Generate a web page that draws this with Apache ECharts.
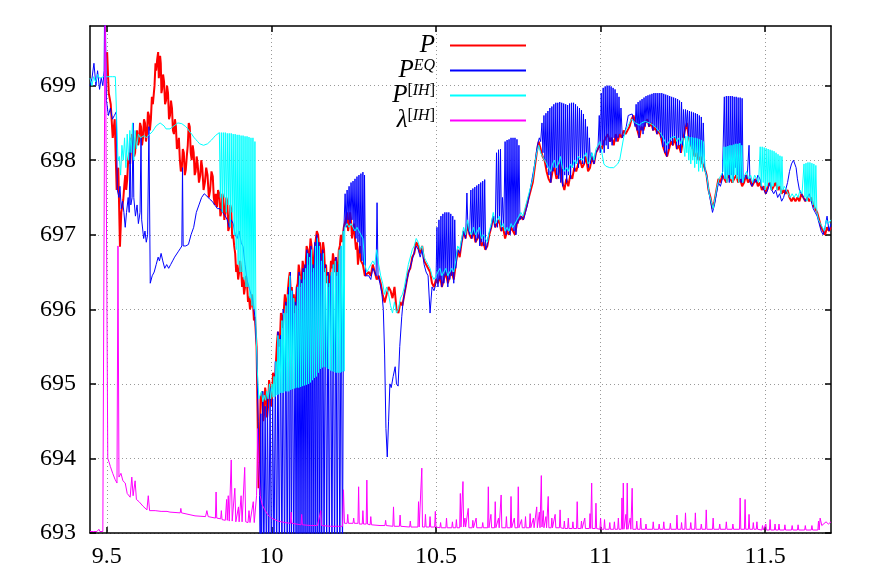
<!DOCTYPE html>
<html>
<head>
<meta charset="utf-8">
<script src="https://cdn.jsdelivr.net/npm/echarts@6/dist/echarts.min.js"></script>
<style>
  html, body { margin: 0; padding: 0; background: #fff; }
  #chart { width: 872px; height: 580px; }
</style>
</head>
<body>
<div id="chart"></div>
<script>
    const xTicks = [9.5, 10, 10.5, 11, 11.5];
    const yTicks = [693, 694, 695, 696, 697, 698, 699];
    const seriesNames = ['P', 'P_EQ', 'P_IH', 'lambda_IH'];

    // P
    const pData = [
        [9.501, 699.45], [9.506, 698.9], [9.512, 698.75], [9.518, 698.3], [9.524, 698.55], [9.530, 697.6],
        [9.535, 697.9], [9.540, 696.84], [9.544, 697.3], [9.550, 697.47], [9.553, 697.65],
        [9.556, 697.8], [9.559, 697.6], [9.562, 697.74], [9.565, 698.0], [9.568, 698.1], [9.571, 697.95],
        [9.574, 698.2], [9.577, 698.35], [9.580, 698.3], [9.583, 698.05], [9.586, 698.1], [9.589, 698.35],
        [9.592, 698.4], [9.595, 698.2], [9.598, 698.25], [9.601, 698.5], [9.604, 698.45], [9.607, 698.2],
        [9.610, 698.3], [9.613, 698.55], [9.616, 698.5], [9.619, 698.25], [9.622, 698.35], [9.625, 698.65],
        [9.628, 698.6], [9.631, 698.4], [9.634, 698.55], [9.637, 698.85], [9.640, 698.75], [9.643, 698.9],
        [9.645, 699.0], [9.648, 699.3], [9.650, 699.2], [9.653, 699.35], [9.656, 699.45], [9.658, 699.1],
        [9.660, 699.2], [9.662, 699.4], [9.664, 699.3], [9.666, 698.9], [9.668, 698.95], [9.671, 699.15],
        [9.674, 699.05], [9.677, 698.75], [9.680, 698.8], [9.683, 699.0], [9.686, 698.9], [9.689, 698.55],
        [9.692, 698.6], [9.695, 698.8], [9.698, 698.7], [9.701, 698.4], [9.704, 698.35], [9.707, 698.55],
        [9.710, 698.45], [9.713, 698.15], [9.716, 698.2], [9.719, 698.3], [9.722, 698.0], [9.725, 697.85],
        [9.728, 697.9], [9.731, 698.15], [9.734, 698.1], [9.737, 697.8], [9.740, 697.87], [9.743, 698.05],
        [9.746, 698.2], [9.749, 698.5], [9.752, 698.45], [9.755, 698.1], [9.758, 698.0], [9.761, 698.2],
        [9.764, 698.1], [9.767, 697.8], [9.770, 697.85], [9.773, 698.05], [9.776, 697.95], [9.780, 697.7],
        [9.784, 697.8], [9.787, 698.0], [9.790, 697.9], [9.794, 697.6], [9.798, 697.7], [9.802, 697.9],
        [9.806, 697.8], [9.810, 697.5], [9.814, 697.6], [9.818, 697.85], [9.822, 697.78], [9.825, 697.5],
        [9.828, 697.4], [9.831, 697.55], [9.835, 697.37], [9.838, 697.6], [9.842, 697.55], [9.845, 697.25],
        [9.848, 697.3], [9.851, 697.55], [9.854, 697.5], [9.857, 697.2], [9.860, 697.3], [9.863, 697.5],
        [9.866, 697.45], [9.869, 697.05], [9.872, 697.1], [9.875, 697.4], [9.878, 697.35], [9.881, 696.95],
        [9.884, 697.0], [9.887, 696.85], [9.890, 696.75], [9.893, 696.5], [9.896, 696.6], [9.899, 696.4],
        [9.902, 696.5], [9.905, 696.65], [9.908, 696.55], [9.911, 696.3], [9.914, 696.43], [9.917, 696.2],
        [9.920, 696.3], [9.923, 696.45], [9.926, 696.35], [9.929, 696.1], [9.932, 696.17], [9.935, 696.0],
        [9.938, 696.05], [9.941, 696.2], [9.944, 696.1], [9.947, 695.85], [9.950, 695.9], [9.955, 695.5],
        [9.958, 694.6], [9.961, 693.6], [9.964, 694.0], [9.967, 694.8], [9.972, 694.9], [9.975, 694.5],
        [9.978, 694.6], [9.981, 694.95], [9.984, 694.85], [9.987, 694.55], [9.990, 694.7], [9.993, 695.05],
        [9.996, 694.95], [9.999, 694.7], [10.002, 694.8], [10.005, 695.15], [10.008, 695.1], [10.011, 695.0],
        [10.014, 695.3], [10.017, 695.55], [10.020, 695.7], [10.023, 695.5], [10.026, 695.6], [10.029, 695.95],
        [10.032, 695.9], [10.035, 695.75], [10.038, 696.0], [10.041, 696.2], [10.044, 696.1], [10.047, 695.95],
        [10.050, 696.25], [10.053, 696.4], [10.056, 696.5], [10.059, 696.2], [10.062, 696.3], [10.065, 696.05],
        [10.068, 696.2], [10.071, 695.95], [10.074, 696.1], [10.077, 696.3], [10.080, 696.35], [10.083, 696.6],
        [10.086, 696.5], [10.089, 696.3], [10.092, 696.4], [10.095, 696.65], [10.098, 696.55], [10.101, 696.4],
        [10.104, 696.6], [10.107, 696.85], [10.110, 696.8], [10.113, 696.6], [10.116, 696.75], [10.119, 696.95],
        [10.122, 696.85], [10.125, 696.5], [10.128, 696.6], [10.131, 696.8], [10.134, 696.9], [10.138, 697.05],
        [10.142, 697.0], [10.145, 696.8], [10.148, 696.9], [10.151, 696.6], [10.154, 696.7], [10.157, 696.9],
        [10.160, 696.8], [10.163, 696.5], [10.166, 696.6], [10.169, 696.35], [10.172, 696.5], [10.175, 696.3],
        [10.178, 696.4], [10.181, 696.65], [10.184, 696.55], [10.187, 696.75], [10.190, 696.65], [10.193, 696.5],
        [10.196, 696.7], [10.199, 696.45], [10.202, 696.55], [10.205, 696.8], [10.208, 696.85], [10.211, 697.0],
        [10.214, 696.9], [10.220, 697.1], [10.226, 697.2], [10.230, 697.3], [10.233, 697.05], [10.236, 697.15],
        [10.239, 697.3], [10.242, 697.2], [10.245, 696.95], [10.248, 697.05], [10.251, 697.15], [10.254, 696.95],
        [10.257, 696.8], [10.260, 696.9], [10.263, 696.6], [10.266, 696.75], [10.269, 696.85], [10.272, 696.65],
        [10.278, 696.6], [10.284, 696.45], [10.290, 696.43], [10.296, 696.5], [10.302, 696.45], [10.308, 696.6],
        [10.314, 696.5], [10.320, 696.4], [10.326, 696.45], [10.332, 696.35], [10.338, 696.2], [10.344, 696.09],
        [10.350, 696.2], [10.356, 696.3], [10.362, 696.25], [10.368, 696.15], [10.374, 696.3], [10.380, 696.0],
        [10.386, 695.95], [10.392, 696.1], [10.398, 696.05], [10.404, 696.2], [10.410, 696.35], [10.416, 696.5],
        [10.422, 696.55], [10.428, 696.7], [10.434, 696.75], [10.440, 696.9], [10.446, 696.85], [10.452, 696.75],
        [10.458, 696.85], [10.464, 696.65], [10.470, 696.6], [10.476, 696.55], [10.482, 696.5], [10.488, 696.35],
        [10.494, 696.3], [10.500, 696.4], [10.506, 696.35], [10.512, 696.45], [10.518, 696.3], [10.524, 696.4],
        [10.530, 696.5], [10.536, 696.35], [10.542, 696.45], [10.548, 696.5], [10.554, 696.4], [10.560, 696.6],
        [10.566, 696.8], [10.572, 696.7], [10.578, 696.9], [10.584, 697.05], [10.590, 696.95], [10.596, 697.15],
        [10.602, 697.0], [10.608, 696.95], [10.614, 697.05], [10.620, 696.9], [10.626, 696.95], [10.632, 697.0],
        [10.638, 696.85], [10.644, 696.9], [10.650, 696.8], [10.656, 696.85], [10.662, 697.0], [10.668, 697.1],
        [10.674, 697.25], [10.680, 697.1], [10.686, 697.15], [10.692, 697.2], [10.698, 697.05], [10.704, 697.1],
        [10.710, 696.95], [10.716, 697.05], [10.722, 697.0], [10.728, 697.1], [10.734, 697.05], [10.740, 697.0],
        [10.746, 697.15], [10.752, 697.2], [10.758, 697.25], [10.764, 697.2], [10.770, 697.3], [10.776, 697.4],
        [10.782, 697.5], [10.788, 697.6], [10.794, 697.7], [10.800, 697.9], [10.806, 698.1], [10.812, 698.25],
        [10.818, 698.15], [10.824, 698.05], [10.830, 698.0], [10.836, 697.85], [10.842, 697.75], [10.848, 697.7],
        [10.854, 697.85], [10.860, 697.9], [10.866, 697.75], [10.872, 697.8], [10.878, 697.95], [10.884, 697.7],
        [10.890, 697.6], [10.896, 697.75], [10.902, 697.65], [10.908, 697.8], [10.914, 697.75], [10.920, 697.9],
        [10.926, 697.85], [10.932, 697.95], [10.938, 698.0], [10.944, 697.9], [10.950, 697.95], [10.956, 698.05],
        [10.962, 697.85], [10.968, 697.9], [10.974, 698.05], [10.980, 697.95], [10.986, 698.1], [10.992, 698.15],
        [10.998, 698.2], [11.004, 698.15], [11.010, 698.25], [11.016, 698.3], [11.022, 698.35], [11.028, 698.25],
        [11.034, 698.3], [11.040, 698.2], [11.046, 698.35], [11.052, 698.25], [11.058, 698.35], [11.064, 698.3],
        [11.070, 698.4], [11.076, 698.35], [11.082, 698.4], [11.088, 698.45], [11.094, 698.55], [11.100, 698.6],
        [11.106, 698.5], [11.112, 698.4], [11.118, 698.3], [11.124, 698.45], [11.130, 698.4], [11.136, 698.5],
        [11.142, 698.55], [11.148, 698.45], [11.154, 698.5], [11.160, 698.4], [11.166, 698.45], [11.172, 698.35],
        [11.178, 698.4], [11.184, 698.3], [11.190, 698.18], [11.196, 698.1], [11.202, 698.05], [11.208, 698.15],
        [11.214, 698.25], [11.220, 698.2], [11.226, 698.3], [11.232, 698.15], [11.238, 698.2], [11.244, 698.1],
        [11.250, 698.25], [11.256, 698.4], [11.262, 698.5], [11.268, 698.3], [11.274, 698.2], [11.280, 698.15],
        [11.286, 698.05], [11.292, 698.1], [11.298, 698.0], [11.304, 698.05], [11.310, 697.95], [11.316, 697.9],
        [11.322, 697.8], [11.328, 697.6], [11.334, 697.5], [11.340, 697.35], [11.346, 697.45], [11.352, 697.6],
        [11.358, 697.75], [11.364, 697.7], [11.370, 697.8], [11.376, 697.75], [11.382, 697.7], [11.388, 697.8],
        [11.394, 697.75], [11.400, 697.7], [11.406, 697.75], [11.412, 697.8], [11.418, 697.7], [11.424, 697.75],
        [11.430, 697.65], [11.436, 697.7], [11.442, 697.8], [11.448, 697.7], [11.454, 697.75], [11.460, 697.65],
        [11.466, 697.7], [11.472, 697.75], [11.478, 697.65], [11.484, 697.7], [11.490, 697.6], [11.496, 697.65],
        [11.502, 697.55], [11.508, 697.65], [11.514, 697.7], [11.520, 697.6], [11.526, 697.65], [11.532, 697.7],
        [11.538, 697.6], [11.544, 697.65], [11.550, 697.55], [11.556, 697.6], [11.562, 697.55], [11.568, 697.6],
        [11.574, 697.5], [11.580, 697.45], [11.586, 697.5], [11.592, 697.45], [11.598, 697.5], [11.604, 697.45],
        [11.610, 697.55], [11.616, 697.5], [11.622, 697.45], [11.628, 697.5], [11.634, 697.45], [11.640, 697.5],
        [11.646, 697.4], [11.652, 697.35], [11.658, 697.3], [11.664, 697.2], [11.670, 697.1], [11.676, 697.05],
        [11.682, 697.0], [11.688, 697.1], [11.694, 697.05], [11.700, 697.1]
    ];

    // P^EQ
    const eqData = [
        [9.449, 699.0], [9.455, 699.1], [9.461, 699.3], [9.467, 699.0], [9.472, 699.2], [9.478, 698.95],
        [9.483, 699.1], [9.488, 699.0], [9.492, 699.2], [9.494, 700.5], [9.497, 700.5], [9.499, 698.8],
        [9.505, 698.6], [9.511, 698.7], [9.517, 698.55], [9.523, 698.6], [9.529, 698.65], [9.532, 697.6],
        [9.537, 697.5], [9.540, 697.65], [9.544, 697.35], [9.548, 697.45], [9.552, 697.3], [9.556, 697.1],
        [9.560, 697.3], [9.565, 697.5], [9.568, 697.3], [9.571, 698.3], [9.573, 697.4], [9.577, 697.5],
        [9.580, 698.5], [9.582, 697.5], [9.587, 697.25], [9.592, 697.4], [9.596, 697.15], [9.601, 697.3],
        [9.604, 698.3], [9.606, 697.2], [9.612, 696.95], [9.616, 697.05], [9.620, 696.9], [9.624, 697.0],
        [9.628, 698.45], [9.632, 696.35], [9.638, 696.45], [9.644, 696.5], [9.650, 696.6], [9.656, 696.7],
        [9.660, 696.65], [9.665, 696.75], [9.670, 696.65], [9.676, 696.55], [9.682, 696.6], [9.688, 696.55],
        [9.694, 696.6], [9.700, 696.65], [9.706, 696.7], [9.712, 696.72], [9.718, 696.78], [9.724, 696.82],
        [9.728, 696.85], [9.730, 697.9], [9.732, 696.85], [9.740, 696.85], [9.748, 696.87], [9.756, 697.0],
        [9.764, 697.1], [9.772, 697.3], [9.780, 697.4], [9.788, 697.5], [9.796, 697.55], [9.804, 697.52],
        [9.812, 697.48], [9.820, 697.45], [9.828, 697.4], [9.836, 697.35], [9.844, 697.35], [9.852, 697.3],
        [9.860, 697.25], [9.866, 697.2], [9.872, 697.1], [9.878, 697.2], [9.884, 697.15], [9.890, 697.0],
        [9.896, 696.95], [9.902, 697.05], [9.908, 696.9], [9.914, 696.84], [9.920, 696.6], [9.926, 696.4],
        [9.932, 696.3], [9.938, 696.2], [9.944, 696.1], [9.950, 695.9], [9.955, 695.5], [9.960, 694.5],
        [9.964, 693.5], [9.966, 692.8], [9.968, 694.6], [9.970, 692.5], [9.974, 694.9], [9.977, 692.5],
        [9.981, 694.7], [9.985, 692.5], [9.988, 694.85], [9.992, 692.5], [9.996, 694.95], [10.000, 692.5],
        [10.004, 694.8], [10.008, 692.5], [10.012, 695.3], [10.016, 692.5], [10.020, 695.7], [10.024, 692.5],
        [10.028, 695.65], [10.032, 692.5], [10.036, 696.0], [10.040, 692.5], [10.044, 696.1], [10.048, 692.5],
        [10.052, 696.3], [10.055, 692.5], [10.058, 696.5], [10.061, 692.5], [10.064, 696.25], [10.068, 692.5],
        [10.072, 696.1], [10.075, 692.5], [10.078, 696.3], [10.081, 692.5], [10.084, 696.5], [10.087, 692.5],
        [10.090, 696.4], [10.093, 692.5], [10.096, 696.55], [10.099, 692.5], [10.102, 696.6], [10.105, 692.5],
        [10.108, 696.8], [10.111, 692.5], [10.114, 696.75], [10.117, 692.5], [10.120, 696.85], [10.123, 692.5],
        [10.126, 696.6], [10.129, 692.5], [10.132, 696.9], [10.135, 692.5], [10.138, 697.0], [10.141, 692.5],
        [10.144, 696.9], [10.147, 692.5], [10.150, 696.75], [10.153, 692.5], [10.156, 696.8], [10.160, 692.5],
        [10.164, 696.6], [10.168, 692.5], [10.172, 696.5], [10.176, 692.5], [10.180, 696.45], [10.184, 692.5],
        [10.188, 696.6], [10.192, 692.5], [10.196, 696.7], [10.200, 692.5], [10.204, 696.6], [10.208, 692.5],
        [10.212, 696.85], [10.216, 692.5], [10.220, 697.05], [10.224, 697.55], [10.227, 697.1], [10.230, 697.6],
        [10.233, 697.2], [10.236, 697.65], [10.239, 697.15], [10.242, 697.7], [10.245, 697.2], [10.248, 697.72],
        [10.251, 697.05], [10.254, 697.75], [10.257, 696.95], [10.260, 697.78], [10.263, 696.9], [10.266, 697.8],
        [10.269, 696.75], [10.272, 697.82], [10.275, 696.65], [10.278, 697.84], [10.281, 696.6], [10.283, 697.8],
        [10.286, 696.45], [10.290, 696.43], [10.296, 696.45], [10.302, 696.4], [10.308, 696.55], [10.314, 696.5],
        [10.318, 696.45], [10.321, 697.43], [10.324, 696.45], [10.330, 696.35], [10.336, 696.2], [10.340, 696.0],
        [10.344, 695.4], [10.348, 694.4], [10.352, 694.02], [10.356, 694.5], [10.360, 695.0], [10.364, 694.95],
        [10.370, 695.1], [10.376, 695.23], [10.380, 695.0], [10.385, 694.97], [10.390, 695.5], [10.396, 695.9],
        [10.400, 696.1], [10.406, 696.25], [10.412, 696.4], [10.418, 696.5], [10.424, 696.6], [10.430, 696.7],
        [10.436, 696.8], [10.440, 696.85], [10.446, 696.8], [10.452, 696.7], [10.458, 696.8], [10.464, 696.6],
        [10.470, 696.5], [10.476, 696.45], [10.482, 695.95], [10.488, 696.3], [10.494, 696.25], [10.500, 696.35],
        [10.503, 697.1], [10.506, 696.3], [10.509, 697.2], [10.512, 696.4], [10.515, 697.25], [10.518, 696.3],
        [10.521, 697.28], [10.524, 696.35], [10.527, 697.3], [10.530, 696.45], [10.533, 697.3], [10.536, 696.3],
        [10.539, 697.3], [10.542, 696.4], [10.545, 697.28], [10.548, 696.45], [10.551, 697.25], [10.554, 696.35],
        [10.557, 697.2], [10.560, 696.55], [10.566, 696.8], [10.572, 696.75], [10.578, 696.9], [10.584, 697.05],
        [10.590, 696.95], [10.594, 697.56], [10.597, 697.1], [10.602, 697.0], [10.606, 697.6], [10.609, 696.95],
        [10.612, 697.62], [10.615, 697.0], [10.618, 697.64], [10.621, 696.9], [10.624, 697.66], [10.627, 696.95],
        [10.630, 697.68], [10.633, 696.85], [10.636, 697.7], [10.639, 696.9], [10.642, 697.72], [10.645, 696.85],
        [10.648, 697.74], [10.651, 696.8], [10.655, 696.85], [10.660, 697.0], [10.668, 697.1], [10.674, 697.25],
        [10.680, 697.1], [10.684, 698.1], [10.687, 697.1], [10.690, 698.14], [10.693, 697.2], [10.696, 698.15],
        [10.699, 697.05], [10.702, 697.5], [10.706, 697.1], [10.710, 698.25], [10.713, 697.0], [10.716, 698.27],
        [10.719, 697.05], [10.722, 698.28], [10.725, 697.0], [10.728, 698.3], [10.731, 697.1], [10.734, 698.3],
        [10.737, 697.05], [10.740, 698.3], [10.743, 697.0], [10.746, 698.28], [10.749, 697.15], [10.752, 698.2],
        [10.755, 697.2], [10.760, 697.25], [10.766, 697.2], [10.772, 697.3], [10.778, 697.4], [10.784, 697.55],
        [10.790, 697.7], [10.796, 697.85], [10.802, 698.0], [10.808, 698.2], [10.814, 698.3], [10.818, 698.25],
        [10.822, 698.5], [10.825, 698.1], [10.828, 698.6], [10.831, 698.0], [10.834, 698.63], [10.837, 697.9],
        [10.840, 698.66], [10.843, 697.8], [10.846, 698.7], [10.849, 697.7], [10.852, 698.72], [10.855, 697.85],
        [10.858, 698.75], [10.861, 697.9], [10.864, 698.77], [10.867, 697.8], [10.870, 698.77], [10.873, 697.75],
        [10.876, 698.78], [10.879, 697.7], [10.882, 698.77], [10.885, 697.65], [10.888, 698.76], [10.891, 697.8],
        [10.894, 698.75], [10.897, 697.7], [10.900, 698.74], [10.903, 697.8], [10.906, 698.76], [10.909, 697.75],
        [10.912, 698.77], [10.915, 697.9], [10.918, 698.77], [10.921, 697.85], [10.924, 698.75], [10.927, 697.95],
        [10.930, 698.72], [10.933, 697.9], [10.936, 698.7], [10.939, 698.0], [10.942, 698.67], [10.945, 697.95],
        [10.948, 698.62], [10.951, 697.95], [10.954, 698.55], [10.957, 698.05], [10.960, 698.45], [10.963, 697.9],
        [10.966, 698.3], [10.969, 697.95], [10.972, 698.1], [10.976, 698.0], [10.980, 697.95], [10.986, 698.1],
        [10.992, 698.15], [10.996, 698.6], [10.999, 698.1], [11.002, 698.9], [11.005, 698.2], [11.008, 698.97],
        [11.011, 698.1], [11.014, 698.99], [11.017, 698.2], [11.020, 699.0], [11.023, 698.15], [11.026, 699.0],
        [11.029, 698.25], [11.032, 698.99], [11.035, 698.2], [11.038, 698.97], [11.041, 698.3], [11.044, 698.95],
        [11.047, 698.25], [11.050, 698.9], [11.053, 698.3], [11.056, 698.85], [11.059, 698.35], [11.062, 698.7],
        [11.066, 698.3], [11.072, 698.35], [11.078, 698.45], [11.084, 698.6], [11.090, 698.6], [11.096, 698.62],
        [11.100, 698.6], [11.105, 698.45], [11.108, 698.75], [11.111, 698.4], [11.114, 698.78], [11.117, 698.3],
        [11.120, 698.8], [11.123, 698.4], [11.126, 698.82], [11.129, 698.35], [11.132, 698.84], [11.135, 698.45],
        [11.138, 698.86], [11.141, 698.5], [11.144, 698.87], [11.147, 698.45], [11.150, 698.88], [11.153, 698.5],
        [11.156, 698.89], [11.159, 698.4], [11.162, 698.9], [11.165, 698.45], [11.168, 698.9], [11.171, 698.35],
        [11.174, 698.9], [11.177, 698.4], [11.180, 698.9], [11.183, 698.3], [11.186, 698.9], [11.189, 698.18],
        [11.192, 698.89], [11.195, 698.1], [11.198, 698.88], [11.201, 698.05], [11.204, 698.87], [11.207, 698.15],
        [11.210, 698.86], [11.213, 698.25], [11.216, 698.85], [11.219, 698.2], [11.222, 698.84], [11.225, 698.3],
        [11.228, 698.83], [11.231, 698.15], [11.234, 698.82], [11.237, 698.2], [11.240, 698.8], [11.243, 698.1],
        [11.246, 698.78], [11.249, 698.2], [11.252, 698.68], [11.255, 698.3], [11.258, 698.68], [11.261, 698.45],
        [11.264, 698.67], [11.267, 698.3], [11.270, 698.66], [11.273, 698.2], [11.276, 698.65], [11.279, 698.15],
        [11.282, 698.64], [11.285, 698.05], [11.288, 698.63], [11.291, 698.1], [11.294, 698.62], [11.297, 698.0],
        [11.300, 698.6], [11.303, 698.05], [11.306, 698.58], [11.309, 697.95], [11.312, 698.5], [11.316, 697.9],
        [11.322, 697.8], [11.328, 697.6], [11.334, 697.45], [11.340, 697.3], [11.346, 697.4], [11.352, 697.55],
        [11.358, 697.7], [11.364, 697.65], [11.370, 697.75], [11.376, 698.85], [11.379, 697.75], [11.382, 698.86],
        [11.385, 697.8], [11.388, 698.86], [11.391, 697.7], [11.394, 698.86], [11.397, 697.8], [11.400, 698.86],
        [11.403, 697.75], [11.406, 698.85], [11.409, 697.9], [11.412, 698.85], [11.415, 697.8], [11.418, 698.84],
        [11.421, 697.75], [11.424, 698.84], [11.427, 697.7], [11.430, 698.83], [11.433, 697.7], [11.439, 697.8],
        [11.445, 697.75], [11.451, 698.2], [11.454, 697.7], [11.460, 697.65], [11.466, 697.75], [11.472, 697.7],
        [11.478, 697.8], [11.484, 697.75], [11.490, 697.65], [11.496, 697.6], [11.502, 697.55], [11.508, 697.6],
        [11.514, 697.7], [11.520, 697.6], [11.526, 697.55], [11.532, 697.6], [11.538, 697.5], [11.544, 697.55],
        [11.550, 697.45], [11.556, 697.5], [11.562, 697.6], [11.568, 697.7], [11.574, 697.85], [11.580, 697.95],
        [11.586, 698.0], [11.590, 697.98], [11.594, 697.9], [11.598, 697.75], [11.604, 697.6], [11.610, 697.55],
        [11.616, 697.5], [11.622, 697.45], [11.628, 697.5], [11.634, 697.55], [11.640, 697.45], [11.646, 697.35],
        [11.652, 697.3], [11.658, 697.25], [11.664, 697.15], [11.670, 697.05], [11.676, 697.0], [11.682, 697.1],
        [11.688, 697.25], [11.694, 697.05], [11.700, 697.15]
    ];

    // P^[IH]
    const ihData = [
        [9.449, 699.1], [9.455, 699.0], [9.460, 699.12], [9.466, 699.05], [9.472, 699.15], [9.478, 699.1],
        [9.484, 699.12], [9.490, 699.12], [9.496, 699.13], [9.502, 699.12], [9.510, 699.12], [9.518, 699.12],
        [9.526, 699.12], [9.532, 699.11], [9.534, 698.0], [9.538, 698.05], [9.542, 697.8], [9.546, 698.2],
        [9.550, 698.0], [9.554, 698.3], [9.558, 697.9], [9.562, 698.35], [9.566, 698.0], [9.570, 698.4],
        [9.574, 698.1], [9.578, 698.5], [9.582, 698.0], [9.586, 698.4], [9.590, 698.15], [9.596, 698.35],
        [9.602, 698.3], [9.608, 698.32], [9.614, 698.33], [9.620, 698.3], [9.626, 698.33], [9.632, 698.34],
        [9.638, 698.38], [9.644, 698.42], [9.650, 698.46], [9.656, 698.48], [9.662, 698.5], [9.668, 698.51],
        [9.674, 698.46], [9.680, 698.42], [9.686, 698.41], [9.692, 698.42], [9.698, 698.44], [9.704, 698.46],
        [9.710, 698.48], [9.716, 698.5], [9.722, 698.5], [9.728, 698.49], [9.734, 698.47], [9.740, 698.45],
        [9.746, 698.42], [9.752, 698.38], [9.758, 698.35], [9.764, 698.31], [9.770, 698.28], [9.776, 698.25],
        [9.782, 698.22], [9.788, 698.21], [9.794, 698.2], [9.800, 698.21], [9.806, 698.22], [9.812, 698.24],
        [9.818, 698.27], [9.824, 698.3], [9.830, 698.33], [9.836, 698.35], [9.842, 698.37], [9.845, 697.5],
        [9.848, 698.37], [9.851, 697.3], [9.854, 698.37], [9.857, 697.5], [9.860, 698.37], [9.863, 697.3],
        [9.866, 698.36], [9.869, 697.4], [9.872, 698.36], [9.875, 697.1], [9.878, 698.36], [9.881, 697.3],
        [9.884, 698.35], [9.887, 697.0], [9.890, 698.35], [9.893, 696.8], [9.896, 698.34], [9.899, 696.6],
        [9.902, 698.34], [9.905, 696.5], [9.908, 698.33], [9.911, 696.5], [9.914, 698.33], [9.917, 696.4],
        [9.920, 698.32], [9.923, 696.3], [9.926, 698.32], [9.929, 696.3], [9.932, 698.31], [9.935, 696.15],
        [9.938, 698.3], [9.941, 696.05], [9.944, 698.3], [9.947, 696.0], [9.950, 698.25], [9.953, 695.8],
        [9.957, 695.2], [9.962, 694.8], [9.966, 694.78], [9.970, 694.9], [9.974, 694.76], [9.978, 694.85],
        [9.982, 694.78], [9.986, 694.9], [9.990, 694.8], [9.994, 695.0], [9.998, 694.8], [10.002, 695.0],
        [10.005, 694.82], [10.008, 695.1], [10.011, 694.83], [10.014, 695.3], [10.017, 694.85], [10.020, 695.65],
        [10.023, 694.86], [10.026, 695.6], [10.029, 694.88], [10.032, 695.85], [10.035, 694.88], [10.038, 695.95],
        [10.041, 694.9], [10.044, 696.05], [10.047, 694.9], [10.050, 696.2], [10.053, 694.9], [10.056, 696.45],
        [10.059, 694.92], [10.062, 696.25], [10.065, 694.93], [10.068, 696.15], [10.071, 694.94], [10.074, 696.05],
        [10.077, 694.95], [10.080, 696.3], [10.083, 694.95], [10.086, 696.45], [10.089, 694.96], [10.092, 696.35],
        [10.095, 694.97], [10.098, 696.5], [10.101, 694.98], [10.104, 696.55], [10.107, 694.99], [10.110, 696.75],
        [10.113, 695.0], [10.116, 696.7], [10.119, 695.02], [10.122, 696.8], [10.125, 695.05], [10.128, 696.55],
        [10.131, 695.08], [10.134, 696.85], [10.137, 695.1], [10.140, 696.95], [10.143, 695.15], [10.146, 696.85],
        [10.149, 695.2], [10.152, 696.65], [10.155, 695.22], [10.158, 696.75], [10.161, 695.23], [10.164, 696.55],
        [10.167, 695.22], [10.170, 696.45], [10.173, 695.2], [10.176, 696.35], [10.179, 695.18], [10.182, 696.5],
        [10.185, 695.17], [10.188, 696.6], [10.191, 695.16], [10.194, 696.65], [10.197, 695.15], [10.200, 696.5],
        [10.203, 695.15], [10.206, 696.8], [10.209, 695.15], [10.212, 696.85], [10.215, 695.16], [10.218, 697.05],
        [10.221, 695.17], [10.223, 697.1], [10.230, 697.15], [10.236, 697.1], [10.242, 697.15], [10.248, 697.1],
        [10.254, 697.05], [10.260, 697.1], [10.266, 697.05], [10.272, 697.0], [10.278, 696.95], [10.284, 696.6],
        [10.290, 696.5], [10.296, 696.55], [10.302, 696.6], [10.308, 696.65], [10.314, 696.6], [10.320, 696.8],
        [10.326, 696.6], [10.332, 696.45], [10.338, 696.35], [10.344, 696.2], [10.350, 696.3], [10.356, 696.2],
        [10.362, 696.05], [10.368, 695.95], [10.374, 696.1], [10.380, 695.95], [10.386, 696.0], [10.392, 696.15],
        [10.398, 696.2], [10.404, 696.3], [10.410, 696.45], [10.416, 696.6], [10.422, 696.7], [10.428, 696.8],
        [10.434, 696.85], [10.440, 696.95], [10.446, 696.9], [10.452, 696.8], [10.458, 696.85], [10.464, 696.7],
        [10.470, 696.65], [10.476, 696.6], [10.482, 696.55], [10.488, 696.45], [10.494, 696.4], [10.500, 696.45],
        [10.506, 696.5], [10.512, 696.55], [10.518, 696.45], [10.524, 696.5], [10.530, 696.55], [10.536, 696.45],
        [10.542, 696.5], [10.548, 696.55], [10.554, 696.5], [10.560, 696.65], [10.566, 696.85], [10.572, 696.8],
        [10.578, 696.95], [10.584, 697.1], [10.590, 697.0], [10.596, 697.2], [10.602, 697.05], [10.608, 697.0],
        [10.614, 697.1], [10.620, 697.0], [10.626, 697.05], [10.632, 697.1], [10.638, 696.95], [10.644, 697.0],
        [10.650, 696.95], [10.656, 696.9], [10.662, 697.05], [10.668, 697.15], [10.674, 697.3], [10.680, 697.15],
        [10.686, 697.2], [10.692, 697.25], [10.698, 697.1], [10.704, 697.15], [10.710, 697.05], [10.716, 697.1],
        [10.722, 697.05], [10.728, 697.15], [10.734, 697.1], [10.740, 697.1], [10.746, 697.2], [10.752, 697.25],
        [10.758, 697.3], [10.764, 697.25], [10.770, 697.35], [10.776, 697.45], [10.782, 697.55], [10.788, 697.65],
        [10.794, 697.75], [10.800, 697.95], [10.806, 698.1], [10.812, 698.2], [10.818, 698.1], [10.824, 698.05],
        [10.830, 698.0], [10.836, 697.95], [10.842, 697.9], [10.848, 697.85], [10.854, 697.95], [10.860, 698.0],
        [10.866, 697.9], [10.872, 697.95], [10.878, 698.05], [10.884, 697.9], [10.890, 697.85], [10.896, 697.9],
        [10.902, 697.85], [10.908, 697.95], [10.914, 697.9], [10.920, 698.0], [10.926, 697.95], [10.932, 698.05],
        [10.938, 698.05], [10.944, 698.0], [10.950, 698.05], [10.956, 698.1], [10.962, 697.95], [10.968, 698.0],
        [10.974, 698.1], [10.980, 698.0], [10.986, 698.15], [10.992, 698.2], [10.998, 698.25], [11.004, 698.1],
        [11.010, 697.95], [11.016, 697.92], [11.022, 697.9], [11.028, 697.9], [11.034, 697.92], [11.040, 697.9],
        [11.046, 697.92], [11.052, 697.95], [11.058, 698.0], [11.064, 698.15], [11.070, 698.3], [11.076, 698.4],
        [11.082, 698.45], [11.088, 698.5], [11.094, 698.55], [11.100, 698.55], [11.106, 698.5], [11.112, 698.48],
        [11.118, 698.47], [11.124, 698.5], [11.130, 698.5], [11.136, 698.52], [11.142, 698.53], [11.148, 698.5],
        [11.154, 698.48], [11.160, 698.47], [11.166, 698.45], [11.172, 698.42], [11.178, 698.4], [11.184, 698.35],
        [11.190, 698.3], [11.196, 698.25], [11.202, 698.2], [11.208, 698.25], [11.214, 698.3], [11.220, 698.28],
        [11.226, 698.32], [11.232, 698.25], [11.238, 698.3], [11.244, 698.22], [11.250, 698.3], [11.253, 698.32],
        [11.256, 698.05], [11.259, 698.32], [11.262, 698.1], [11.265, 698.32], [11.268, 698.0], [11.271, 698.31],
        [11.274, 697.95], [11.277, 698.31], [11.280, 698.0], [11.283, 698.3], [11.286, 697.9], [11.289, 698.3],
        [11.292, 697.95], [11.295, 698.29], [11.298, 697.85], [11.301, 698.28], [11.304, 697.9], [11.307, 698.27],
        [11.310, 697.85], [11.313, 698.25], [11.318, 697.85], [11.324, 697.75], [11.330, 697.55], [11.336, 697.45],
        [11.342, 697.35], [11.348, 697.5], [11.354, 697.65], [11.360, 697.75], [11.366, 697.8], [11.372, 697.85],
        [11.375, 698.18], [11.378, 697.75], [11.381, 698.18], [11.384, 697.7], [11.387, 698.19], [11.390, 697.8],
        [11.393, 698.2], [11.396, 697.75], [11.399, 698.2], [11.402, 697.7], [11.405, 698.21], [11.408, 697.8],
        [11.411, 698.22], [11.414, 697.75], [11.417, 698.22], [11.420, 697.7], [11.423, 698.23], [11.426, 697.75],
        [11.429, 698.2], [11.432, 697.7], [11.438, 697.8], [11.444, 697.85], [11.450, 697.75], [11.456, 697.8],
        [11.462, 697.7], [11.468, 697.8], [11.474, 697.75], [11.480, 697.7], [11.485, 698.18], [11.488, 697.65],
        [11.491, 698.18], [11.494, 697.7], [11.497, 698.17], [11.500, 697.6], [11.503, 698.16], [11.506, 697.65],
        [11.509, 698.15], [11.512, 697.7], [11.515, 698.14], [11.518, 697.6], [11.521, 698.13], [11.524, 697.65],
        [11.527, 698.12], [11.530, 697.7], [11.533, 698.1], [11.536, 697.6], [11.539, 698.08], [11.542, 697.65],
        [11.545, 698.06], [11.548, 697.55], [11.551, 698.05], [11.554, 697.6], [11.558, 697.65], [11.564, 697.6],
        [11.570, 697.55], [11.576, 697.5], [11.582, 697.55], [11.588, 697.5], [11.594, 697.55], [11.600, 697.5],
        [11.606, 697.6], [11.612, 697.55], [11.618, 697.95], [11.621, 697.5], [11.624, 697.96], [11.627, 697.45],
        [11.630, 697.97], [11.633, 697.5], [11.636, 697.97], [11.639, 697.45], [11.642, 697.96], [11.645, 697.4],
        [11.648, 697.95], [11.651, 697.35], [11.654, 697.93], [11.657, 697.3], [11.662, 697.2], [11.668, 697.15],
        [11.674, 697.1], [11.680, 697.05], [11.686, 697.2], [11.692, 697.15], [11.700, 697.2]
    ];

    // lambda^[IH]
    const lamData = [
        [9.449, 693.02], [9.460, 693.02], [9.470, 693.02], [9.476, 693.05], [9.479, 693.02], [9.488, 693.02],
        [9.493, 693.03], [9.495, 700.5], [9.498, 700.5], [9.503, 694.0], [9.507, 693.95], [9.511, 693.89],
        [9.518, 693.8], [9.525, 693.72], [9.531, 693.67], [9.534, 696.85], [9.537, 693.75], [9.543, 693.8],
        [9.549, 693.7], [9.556, 693.67], [9.562, 693.53], [9.571, 693.48], [9.576, 693.75], [9.580, 693.5],
        [9.586, 693.7], [9.590, 693.45], [9.598, 693.42], [9.610, 693.36], [9.622, 693.31], [9.626, 693.5],
        [9.630, 693.3], [9.647, 693.3], [9.665, 693.29], [9.683, 693.29], [9.692, 693.28], [9.723, 693.27],
        [9.725, 693.33], [9.727, 693.27], [9.768, 693.23], [9.800, 693.22], [9.804, 693.3], [9.808, 693.22],
        [9.830, 693.2], [9.832, 693.55], [9.834, 693.2], [9.846, 693.19], [9.848, 693.3], [9.850, 693.18],
        [9.860, 693.17], [9.864, 693.45], [9.866, 693.17], [9.869, 693.5], [9.872, 693.16], [9.878, 693.98],
        [9.881, 693.16], [9.889, 693.6], [9.892, 693.15], [9.898, 693.15], [9.900, 693.35], [9.902, 693.15],
        [9.905, 693.15], [9.908, 693.5], [9.911, 693.15], [9.919, 693.88], [9.922, 693.15], [9.929, 693.14],
        [9.932, 693.3], [9.935, 693.14], [9.945, 693.42], [9.948, 693.14], [9.952, 693.13], [9.955, 693.5],
        [9.958, 694.4], [9.961, 693.95], [9.966, 693.5], [9.972, 693.38], [9.980, 693.31], [9.990, 693.24],
        [10.000, 693.2], [10.020, 693.16], [10.040, 693.14], [10.058, 693.13], [10.060, 693.28], [10.062, 693.13],
        [10.090, 693.11], [10.092, 693.25], [10.094, 693.11], [10.120, 693.1], [10.140, 693.1], [10.150, 693.3],
        [10.152, 693.1], [10.180, 693.09], [10.200, 693.09], [10.216, 693.09], [10.219, 693.58], [10.222, 693.13],
        [10.230, 693.13], [10.232, 693.25], [10.234, 693.13], [10.248, 693.13], [10.250, 693.2], [10.252, 693.13],
        [10.263, 693.13], [10.265, 693.62], [10.267, 693.12], [10.276, 693.12], [10.278, 693.3], [10.280, 693.12],
        [10.288, 693.12], [10.290, 693.71], [10.292, 693.12], [10.300, 693.11], [10.302, 693.22], [10.304, 693.11],
        [10.330, 693.1], [10.345, 693.1], [10.347, 693.17], [10.349, 693.1], [10.369, 693.09], [10.371, 693.35],
        [10.373, 693.09], [10.389, 693.09], [10.391, 693.24], [10.393, 693.09], [10.420, 693.08], [10.422, 693.16],
        [10.424, 693.08], [10.445, 693.08], [10.447, 693.42], [10.449, 693.08], [10.455, 693.08], [10.457, 693.87],
        [10.459, 693.08], [10.466, 693.08], [10.468, 693.25], [10.470, 693.08], [10.480, 693.08], [10.482, 693.22],
        [10.484, 693.08], [10.496, 693.08], [10.498, 693.29], [10.500, 693.08], [10.512, 693.07], [10.514, 693.14],
        [10.516, 693.07], [10.530, 693.07], [10.532, 693.2], [10.534, 693.07], [10.548, 693.07], [10.550, 693.15],
        [10.552, 693.07], [10.560, 693.07], [10.562, 693.18], [10.564, 693.07], [10.572, 693.07], [10.574, 693.53],
        [10.576, 693.08], [10.580, 693.07], [10.582, 693.69], [10.584, 693.08], [10.588, 693.2], [10.590, 693.08],
        [10.596, 693.07], [10.598, 693.33], [10.600, 693.07], [10.610, 693.07], [10.612, 693.17], [10.614, 693.07],
        [10.620, 693.07], [10.622, 693.2], [10.624, 693.07], [10.640, 693.07], [10.642, 693.14], [10.644, 693.07],
        [10.657, 693.07], [10.659, 693.62], [10.661, 693.07], [10.665, 693.07], [10.667, 693.25], [10.669, 693.07],
        [10.678, 693.07], [10.680, 693.42], [10.682, 693.07], [10.688, 693.07], [10.690, 693.2], [10.692, 693.07],
        [10.696, 693.07], [10.698, 693.51], [10.700, 693.07], [10.712, 693.07], [10.714, 693.22], [10.716, 693.07],
        [10.726, 693.07], [10.728, 693.49], [10.730, 693.07], [10.736, 693.07], [10.738, 693.2], [10.740, 693.07],
        [10.748, 693.07], [10.750, 693.62], [10.752, 693.07], [10.758, 693.07], [10.760, 693.18], [10.762, 693.07],
        [10.770, 693.07], [10.772, 693.22], [10.774, 693.07], [10.784, 693.07], [10.786, 693.26], [10.788, 693.07],
        [10.794, 693.07], [10.796, 693.2], [10.798, 693.07], [10.804, 693.07], [10.806, 693.35], [10.808, 693.07],
        [10.812, 693.07], [10.814, 693.28], [10.816, 693.07], [10.818, 693.07], [10.820, 693.77], [10.822, 693.08],
        [10.826, 693.3], [10.828, 693.07], [10.832, 693.07], [10.834, 693.22], [10.836, 693.07], [10.839, 693.07],
        [10.841, 693.49], [10.843, 693.07], [10.850, 693.07], [10.852, 693.2], [10.854, 693.07], [10.860, 693.07],
        [10.862, 693.25], [10.864, 693.07], [10.875, 693.07], [10.877, 693.31], [10.879, 693.07], [10.888, 693.06],
        [10.890, 693.16], [10.892, 693.06], [10.900, 693.06], [10.902, 693.2], [10.904, 693.06], [10.914, 693.06],
        [10.916, 693.15], [10.918, 693.06], [10.927, 693.06], [10.929, 693.42], [10.931, 693.06], [10.940, 693.06],
        [10.942, 693.16], [10.944, 693.06], [10.950, 693.06], [10.952, 693.2], [10.954, 693.06], [10.966, 693.06],
        [10.968, 693.26], [10.970, 693.06], [10.971, 693.06], [10.973, 693.67], [10.975, 693.06], [10.984, 693.06],
        [10.986, 693.4], [10.988, 693.06], [10.998, 693.05], [11.000, 693.2], [11.002, 693.05], [11.010, 693.05],
        [11.012, 693.18], [11.014, 693.05], [11.026, 693.05], [11.028, 693.14], [11.030, 693.05], [11.040, 693.05],
        [11.042, 693.15], [11.044, 693.05], [11.052, 693.05], [11.054, 693.2], [11.056, 693.05], [11.063, 693.05],
        [11.065, 693.47], [11.067, 693.05], [11.069, 693.67], [11.071, 693.05], [11.075, 693.05], [11.077, 693.25],
        [11.079, 693.05], [11.081, 693.67], [11.083, 693.05], [11.088, 693.05], [11.090, 693.2], [11.092, 693.05],
        [11.094, 693.05], [11.096, 693.6], [11.098, 693.05], [11.108, 693.05], [11.110, 693.16], [11.112, 693.05],
        [11.120, 693.05], [11.122, 693.2], [11.124, 693.05], [11.136, 693.05], [11.138, 693.12], [11.140, 693.05],
        [11.158, 693.05], [11.160, 693.15], [11.162, 693.05], [11.176, 693.05], [11.178, 693.12], [11.180, 693.05],
        [11.190, 693.05], [11.192, 693.15], [11.194, 693.05], [11.210, 693.05], [11.212, 693.13], [11.214, 693.05],
        [11.230, 693.05], [11.232, 693.24], [11.234, 693.05], [11.244, 693.05], [11.246, 693.14], [11.248, 693.05],
        [11.256, 693.05], [11.258, 693.27], [11.260, 693.05], [11.272, 693.05], [11.274, 693.14], [11.276, 693.05],
        [11.286, 693.05], [11.288, 693.27], [11.290, 693.05], [11.304, 693.05], [11.306, 693.12], [11.308, 693.05],
        [11.319, 693.05], [11.321, 693.31], [11.323, 693.05], [11.340, 693.05], [11.342, 693.2], [11.344, 693.05],
        [11.360, 693.05], [11.362, 693.12], [11.364, 693.05], [11.380, 693.05], [11.382, 693.15], [11.384, 693.05],
        [11.400, 693.05], [11.402, 693.12], [11.404, 693.05], [11.422, 693.05], [11.424, 693.47], [11.426, 693.05],
        [11.437, 693.05], [11.439, 693.45], [11.441, 693.05], [11.449, 693.05], [11.451, 693.25], [11.453, 693.05],
        [11.462, 693.05], [11.464, 693.14], [11.466, 693.05], [11.473, 693.05], [11.475, 693.15], [11.477, 693.05],
        [11.490, 693.04], [11.492, 693.1], [11.494, 693.04], [11.500, 693.04], [11.502, 693.12], [11.504, 693.04],
        [11.513, 693.04], [11.515, 693.18], [11.517, 693.04], [11.528, 693.04], [11.530, 693.12], [11.532, 693.04],
        [11.540, 693.04], [11.542, 693.12], [11.544, 693.04], [11.558, 693.04], [11.560, 693.11], [11.562, 693.04],
        [11.580, 693.04], [11.582, 693.1], [11.584, 693.04], [11.598, 693.04], [11.600, 693.11], [11.602, 693.04],
        [11.620, 693.04], [11.622, 693.1], [11.624, 693.04], [11.640, 693.04], [11.642, 693.1], [11.644, 693.04],
        [11.660, 693.04], [11.662, 693.16], [11.664, 693.04], [11.667, 693.2], [11.672, 693.1], [11.685, 693.15],
        [11.692, 693.12], [11.700, 693.15]
    ];

    const FONT = '"Liberation Serif", "DejaVu Serif", serif';

    const legendText = {
        'P': '{i|P}',
        'P_EQ': '{i|P}{s|EQ}',
        'P_IH': '{i|P}{b|[}{s|IH}{b|]}',
        'lambda_IH': '{i|λ}{b|[}{s|IH}{b|]}'
    };

    const chart = echarts.init(document.getElementById('chart'), null, { renderer: 'canvas' });

    function lineSeries (name, data, color, width) {
        return {
            name: name,
            type: 'line',
            data: data,
            symbol: 'none',
            showSymbol: false,
            clip: true,
            sampling: null,
            lineStyle: { color: color, width: width },
            itemStyle: { color: color },
            emphasis: { disabled: true }
        };
    }

    const tickStyle = { color: '#000', width: 1.5 };

    chart.setOption({
        animation: false,
        backgroundColor: '#fff',
        grid: { left: 90, right: 41, top: 26, bottom: 47, containLabel: false },
        legend: {
            data: seriesNames,
            orient: 'vertical',
            align: 'right',
            right: 346,
            top: 33,
            padding: 0,
            itemGap: 0,
            itemWidth: 76,
            itemHeight: 2,
            icon: 'rect',
            selectedMode: false,
            formatter: function (name) { return legendText[name]; },
            textStyle: {
                padding: [0, 10, 0, 0],
                rich: {
                    i: { fontFamily: FONT, fontStyle: 'italic', fontSize: 25, lineHeight: 25, color: '#000', verticalAlign: 'bottom' },
                    s: { fontFamily: FONT, fontStyle: 'italic', fontSize: 16, color: '#000', verticalAlign: 'top' },
                    b: { fontFamily: FONT, fontSize: 16, color: '#000', verticalAlign: 'top' }
                }
            }
        },
        xAxis: [
            {
                type: 'value', min: 9.449, max: 11.70, position: 'bottom',
                axisLine: { show: true, onZero: false, lineStyle: tickStyle },
                axisTick: { show: true, inside: true, length: 6, customValues: xTicks, lineStyle: tickStyle },
                axisLabel: { customValues: xTicks, color: '#000', fontFamily: FONT, fontSize: 24, margin: 12 },
                splitLine: { show: true, lineStyle: { color: '#999', type: [1, 3], width: 1 } }
            },
            {
                type: 'value', min: 9.449, max: 11.70, position: 'top',
                axisLine: { show: true, onZero: false, lineStyle: tickStyle },
                axisTick: { show: true, inside: true, length: 6, customValues: xTicks, lineStyle: tickStyle },
                axisLabel: { show: false },
                splitLine: { show: false }
            }
        ],
        yAxis: [
            {
                type: 'value', min: 693, max: 699.8, position: 'left',
                axisLine: { show: true, onZero: false, lineStyle: tickStyle },
                axisTick: { show: true, inside: true, length: 6, customValues: yTicks, lineStyle: tickStyle },
                axisLabel: { customValues: yTicks, color: '#000', fontFamily: FONT, fontSize: 24, margin: 14 },
                splitLine: { show: true, lineStyle: { color: '#999', type: [1, 3], width: 1 } }
            },
            {
                type: 'value', min: 693, max: 699.8, position: 'right',
                axisLine: { show: true, onZero: false, lineStyle: tickStyle },
                axisTick: { show: true, inside: true, length: 6, customValues: yTicks, lineStyle: tickStyle },
                axisLabel: { show: false },
                splitLine: { show: false }
            }
        ],
        series: [
            lineSeries('P', pData, '#ff0000', 2),
            lineSeries('P_EQ', eqData, '#0000ff', 1),
            lineSeries('P_IH', ihData, '#00ffff', 1),
            lineSeries('lambda_IH', lamData, '#ff00ff', 1)
        ]
    });
</script>
</body>
</html>
